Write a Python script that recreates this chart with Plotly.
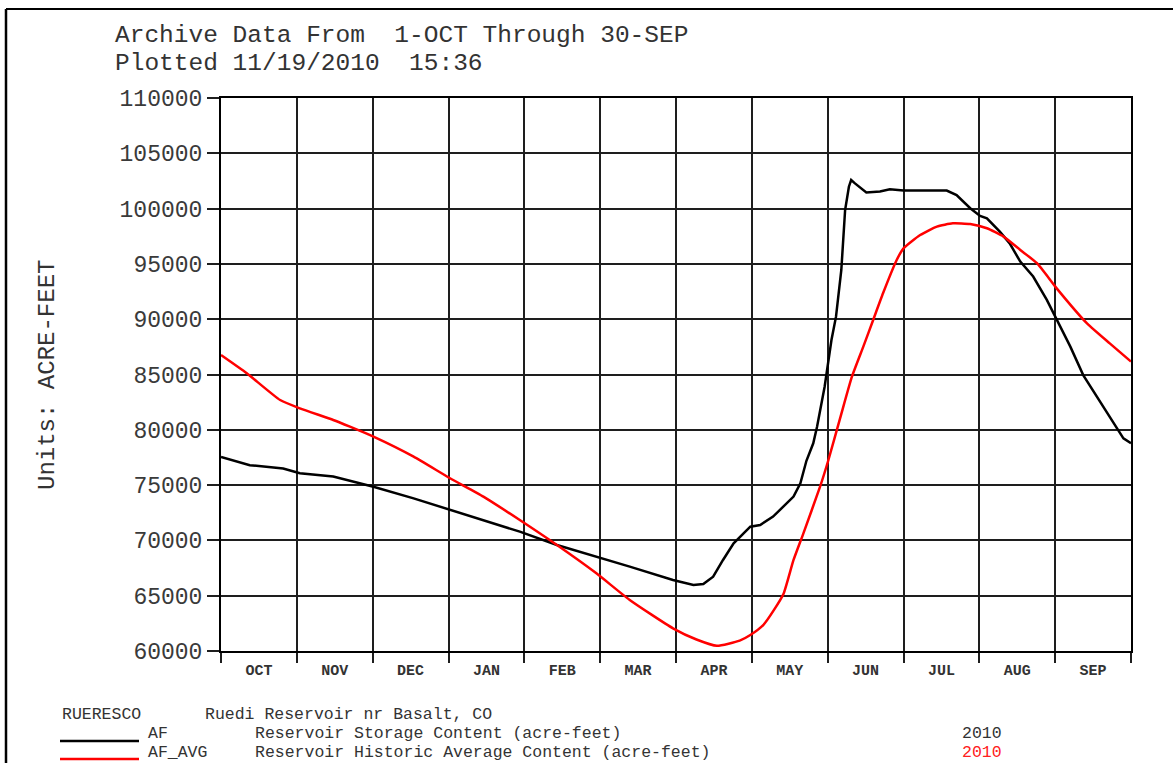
import plotly.graph_objects as go

# Water-year position in months (0 = 1-Oct, 12 = 30-Sep) and storage in acre-feet
af_month = [0.0, 0.38, 0.82, 1.04, 1.48, 2.01, 2.54, 3.02, 3.46, 3.94, 4.43, 4.95,
            5.39, 5.96, 6.23, 6.36, 6.49, 6.62, 6.76, 6.98, 7.11, 7.28, 7.55, 7.64,
            7.72, 7.81, 7.86, 7.96, 8.05, 8.11, 8.18, 8.23, 8.28, 8.31, 8.36, 8.51,
            8.69, 8.82, 9.0, 9.26, 9.57, 9.70, 9.88, 10.01, 10.10, 10.27, 10.40,
            10.54, 10.71, 10.89, 11.02, 11.20, 11.37, 11.55, 11.77, 11.90, 12.0]
af_value = [77540, 76800, 76500, 76070, 75770, 74850, 73800, 72750, 71850, 70790,
            69580, 68530, 67630, 66420, 65970, 66060, 66720, 68230, 69740, 71240,
            71390, 72150, 73960, 75160, 77200, 78780, 80280, 83900, 88120, 90230,
            94450, 99870, 101980, 102590, 102280, 101450, 101540, 101750, 101630,
            101630, 101630, 101230, 100030, 99330, 99120, 97920, 96860, 95210,
            93860, 91740, 89930, 87520, 84950, 82990, 80590, 79230, 78780]

avg_month = [0.0, 0.34, 0.78, 1.04, 1.48, 1.70, 2.01, 2.54, 3.02, 3.46, 3.94, 4.43,
             4.95, 5.39, 5.96, 6.27, 6.54, 6.84, 6.98, 7.15, 7.29, 7.42, 7.55, 7.68,
             7.90, 8.01, 8.17, 8.32, 8.47, 8.60, 8.73, 8.91, 9.0, 9.22, 9.44, 9.65,
             9.88, 10.10, 10.32, 10.54, 10.76, 11.02, 11.42, 11.72, 12.0]
avg_value = [86760, 85110, 82690, 81940, 80890, 80280, 79380, 77570, 75620, 73960,
             71840, 69580, 67020, 64610, 62050, 61040, 60470, 60940, 61450, 62350,
             63700, 65210, 68230, 70640, 74860, 77270, 81190, 84800, 87520, 89930,
             92340, 95350, 96410, 97610, 98370, 98670, 98610, 98220, 97470, 96260,
             95060, 92790, 89620, 87810, 86170]

month_labels = ["OCT", "NOV", "DEC", "JAN", "FEB", "MAR",
                "APR", "MAY", "JUN", "JUL", "AUG", "SEP"]
y_ticks = list(range(60000, 110001, 5000))

MONO = "Liberation Mono, Courier New, monospace"
W, H = 1173, 763
L, R, T, B = 221, 42, 98, 112


def px(xp):
    return (xp - L) / (W - L - R)


def py(yp):
    return (H - B - yp) / (H - T - B)


fig = go.Figure()
fig.add_trace(go.Scatter(x=af_month, y=af_value, mode="lines",
                         line=dict(color="black", width=2.5), name="AF"))
fig.add_trace(go.Scatter(x=avg_month, y=avg_value, mode="lines",
                         line=dict(color="#ff0000", width=2.5, shape="spline", smoothing=0.5),
                         name="AF_AVG"))

grid = "#1e1e1e"
fig.update_xaxes(
    range=[0, 12], showgrid=False, zeroline=False,
    tickmode="array", tickvals=[m + 0.5 for m in range(12)], ticktext=month_labels,
    ticks="outside", ticklen=4, tickcolor="rgba(0,0,0,0)",
    tickfont=dict(family=MONO, size=15, color="#333333", weight="bold"),
    showline=True, linecolor="black", linewidth=2, mirror=True,
    minor=dict(tickmode="linear", tick0=0, dtick=1, ticks="outside", ticklen=10,
               tickcolor=grid, tickwidth=2, showgrid=True, gridcolor=grid, gridwidth=1.6),
)
fig.update_yaxes(
    range=[60000, 110000], tickmode="array", tickvals=y_ticks,
    ticktext=[str(v) for v in y_ticks], zeroline=False,
    showgrid=True, gridcolor=grid, gridwidth=1.6,
    ticks="outside", ticklen=12, tickcolor=grid, tickwidth=2,
    tickfont=dict(family=MONO, size=23, color="#3a3a3a"),
    showline=True, linecolor="black", linewidth=2, mirror=True,
)

ann = []


def text(x, y, s, size, color="#333333", anchor="left", angle=0):
    ann.append(dict(x=px(x), y=py(y), xref="paper", yref="paper", text=s,
                    showarrow=False, xanchor=anchor, yanchor="middle", textangle=angle,
                    font=dict(family=MONO, size=size, color=color)))


text(113, 35, "Archive Data From  1-OCT Through 30-SEP", 24.5)
text(113, 63, "Plotted 11/19/2010  15:36", 24.5)
text(47, 375, "Units: ACRE-FEET", 24, anchor="center", angle=-90)

LEG = 16.5
text(60, 714, "RUERESCO", LEG)
text(203, 714, "Ruedi Reservoir nr Basalt, CO", LEG)
text(146, 733, "AF", LEG)
text(253, 733, "Reservoir Storage Content (acre-feet)", LEG)
text(960, 733, "2010", LEG)
text(146, 752, "AF_AVG", LEG)
text(253, 752, "Reservoir Historic Average Content (acre-feet)", LEG)
text(960, 752, "2010", LEG, color="#ff2020")

shapes = [
    # legend line samples
    dict(type="line", xref="paper", yref="paper", x0=px(60), x1=px(139),
         y0=py(741), y1=py(741), line=dict(color="black", width=2.5)),
    dict(type="line", xref="paper", yref="paper", x0=px(60), x1=px(139),
         y0=py(759), y1=py(759), line=dict(color="#ff0000", width=2.5)),
    # outer page frame
    dict(type="line", xref="paper", yref="paper", x0=px(6), x1=px(1180),
         y0=py(9), y1=py(9), line=dict(color="black", width=2)),
    dict(type="line", xref="paper", yref="paper", x0=px(6), x1=px(6),
         y0=py(9), y1=py(770), line=dict(color="black", width=2.5)),
]

fig.update_layout(
    width=W, height=H, autosize=False,
    margin=dict(l=L, r=R, t=T, b=B),
    paper_bgcolor="white", plot_bgcolor="white",
    showlegend=False, annotations=ann, shapes=shapes,
)

fig.write_html("out.html")
